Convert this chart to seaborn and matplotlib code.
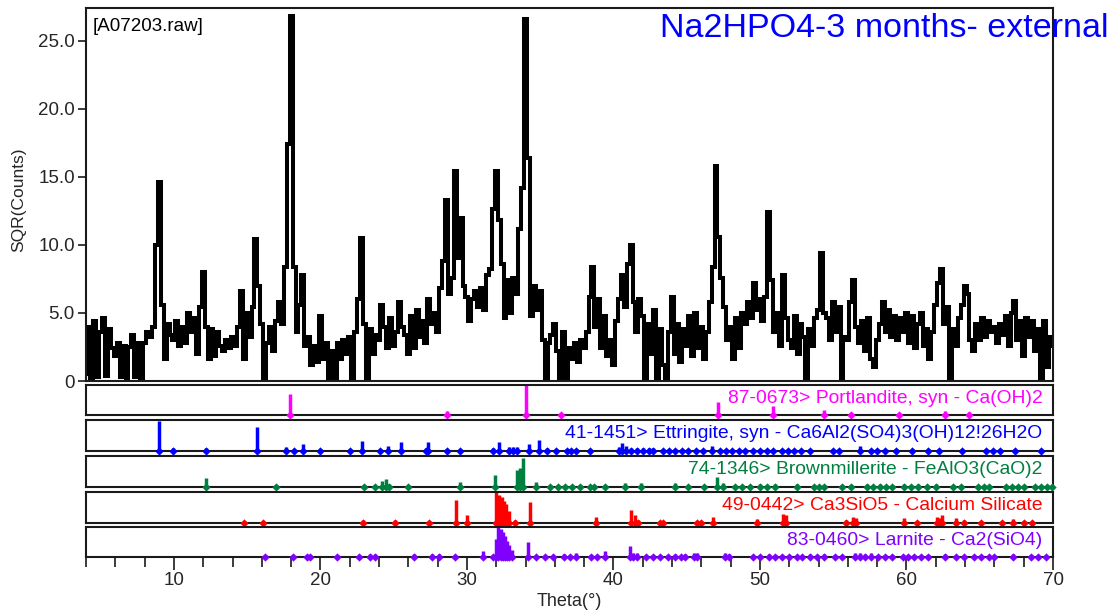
import numpy as np
import pandas as pd
import matplotlib
matplotlib.use("Agg")
import matplotlib.pyplot as plt
import seaborn as sns
from matplotlib.ticker import MultipleLocator

# ---------------- data ----------------
theta_start, theta_stop, theta_step = 4.0, 70.0, 0.2
counts = [
    0.5, 4.0, 0.2, 4.4, 0.3, 3.6, 4.6, 0.4, 3.8, 2.4,
    1.8, 2.8, 0.3, 2.6, 0.2, 2.5, 3.4, 0.3, 2.8, 0.2,
    2.8, 3.6, 3.2, 4.0, 10.0, 14.6, 5.6, 1.6, 4.2, 3.4,
    3.0, 4.4, 2.6, 4.0, 2.8, 5.0, 3.6, 4.6, 2.0, 5.4,
    8.0, 4.0, 1.6, 3.8, 1.8, 3.6, 2.6, 2.2, 3.0, 2.4,
    3.2, 2.6, 4.0, 6.6, 1.6, 5.0, 3.2, 5.4, 10.4, 7.0,
    4.2, 0.0, 2.8, 4.0, 2.2, 4.4, 5.8, 4.2, 8.4, 17.4,
    26.8, 8.4, 3.6, 5.6, 7.8, 2.6, 3.2, 1.2, 2.6, 1.4,
    4.8, 1.6, 2.8, 0.2, 2.2, 0.1, 2.8, 1.6, 3.0, 2.0,
    3.2, 0.1, 3.6, 6.0, 10.5, 4.2, 0.1, 3.8, 2.0, 3.4,
    3.0, 5.6, 4.0, 2.4, 4.6, 2.6, 3.6, 5.8, 4.0, 3.4,
    2.0, 4.8, 2.4, 5.2, 3.2, 4.4, 2.8, 6.0, 4.2, 5.0,
    3.6, 6.8, 8.8, 13.3, 6.4, 7.6, 15.4, 9.0, 12.0, 7.0,
    6.2, 4.4, 6.0, 6.6, 5.4, 6.8, 5.2, 7.8, 8.2, 12.6,
    15.4, 11.8, 8.6, 4.6, 7.4, 5.0, 7.6, 6.4, 11.2, 14.2,
    26.6, 16.4, 4.8, 7.0, 5.2, 6.6, 3.0, 0.1, 2.8, 3.4,
    4.2, 2.2, 0.1, 3.6, 0.1, 2.4, 1.6, 2.8, 1.4, 3.0,
    2.4, 3.6, 6.2, 8.4, 4.0, 6.0, 2.4, 4.8, 1.8, 3.0,
    1.2, 4.4, 6.0, 7.8, 5.4, 8.6, 10.0, 5.8, 3.6, 6.0,
    4.8, 0.1, 4.2, 2.0, 5.2, 0.1, 3.8, 1.2, 0.1, 3.6,
    6.2, 2.0, 4.2, 1.4, 3.8, 2.6, 4.8, 1.8, 5.0, 2.4,
    4.0, 1.6, 3.6, 5.8, 8.4, 15.8, 10.6, 7.6, 5.4, 3.0,
    4.0, 1.6, 4.6, 2.4, 5.0, 4.2, 5.8, 4.6, 7.2, 5.2,
    6.0, 4.4, 6.2, 12.4, 7.4, 3.6, 5.0, 2.6, 7.8, 4.6,
    3.0, 2.4, 4.8, 2.0, 4.2, 3.2, 0.1, 3.8, 2.6, 4.6,
    5.2, 9.4, 5.0, 4.6, 3.0, 5.8, 3.6, 5.4, 0.1, 3.2,
    3.0, 5.8, 7.4, 4.0, 2.8, 4.4, 2.2, 4.6, 1.6, 1.0,
    3.0, 4.2, 5.8, 3.6, 5.2, 3.2, 4.8, 3.0, 4.6, 3.6,
    5.0, 2.8, 4.8, 2.4, 4.2, 5.0, 2.6, 3.8, 1.6, 3.6,
    5.6, 7.2, 8.2, 4.2, 5.4, 0.1, 3.8, 2.6, 4.6, 5.6,
    7.0, 6.4, 3.0, 2.2, 4.2, 3.0, 4.6, 3.2, 4.4, 3.6,
    4.0, 2.8, 4.2, 3.4, 4.8, 2.6, 5.0, 5.9, 3.0, 4.4,
    1.8, 4.6, 3.2, 4.4, 2.2, 3.8, 0.1, 4.4, 1.0, 3.2, 2.6,
]
theta = np.round(theta_start + theta_step * np.arange(len(counts)), 2)

y_ticks = [0, 5, 10, 15, 20, 25]
y_tick_labels = ["0", "5.0", "10.0", "15.0", "20.0", "25.0"]
x_ticks = [10, 20, 30, 40, 50, 60, 70]

portlandite_pos = [17.95, 28.66, 34.05, 36.45, 47.15, 50.9, 54.4, 56.2, 59.5, 62.6, 64.25]
portlandite_int = [70, 15, 100, 5, 42, 30, 17, 7, 4, 12, 10]

ettringite_pos = [
    8.98, 9.91, 12.16, 15.68, 17.68, 18.2, 18.83, 19.95, 21.99, 22.86,
    24.1, 24.6, 25.52, 27.2, 27.35, 28.66, 29.54, 31.77, 32.2, 32.9,
    33.15, 33.4, 34.22, 34.95, 35.45, 36.1, 36.8, 37.1, 37.45, 38.4,
    40.35, 40.6, 40.85, 41.2, 41.6, 42.0, 42.4, 42.7, 43.4, 43.8,
    44.2, 44.7, 45.1, 45.6, 46.1, 46.7, 47.3, 47.7, 48.1, 48.6,
    49.0, 49.5, 50.0, 50.5, 50.9, 51.5, 51.9, 52.3, 52.8, 53.4,
    55.0, 55.4, 56.8, 57.6, 58.0, 58.5, 59.3, 60.4, 61.5, 62.2,
    63.8, 65.4, 65.9, 66.4, 67.4, 69.2,
]
ettringite_int = [
    97, 10, 10, 77, 12, 8, 22, 8, 8, 33,
    8, 15, 30, 10, 28, 8, 8, 10, 30, 12,
    12, 12, 22, 35, 10, 8, 8, 8, 8, 8,
    12, 27, 15, 10, 10, 10, 10, 10, 8, 8,
    8, 8, 8, 8, 8, 15, 8, 8, 8, 8,
    8, 8, 8, 8, 8, 8, 8, 8, 8, 8,
    8, 8, 15, 8, 8, 8, 8, 8, 8, 8,
    8, 8, 8, 8, 8, 8,
]

brownmillerite_pos = [
    12.16, 17.0, 22.96, 23.75, 24.2, 24.45, 24.7, 26.0, 29.54, 31.93,
    33.4, 33.6, 33.81, 34.72, 35.67, 36.24, 36.7, 37.15, 37.7, 38.4,
    38.7, 39.4, 40.8, 41.9, 44.2, 45.1, 46.2, 47.1, 47.45, 48.3,
    48.8, 49.3, 50.0, 50.5, 51.0, 52.5, 53.7, 54.0, 54.4, 55.6,
    56.2, 57.3, 57.7, 58.2, 58.6, 59.0, 59.8, 60.3, 60.8, 61.4,
    62.0, 63.2, 63.7, 64.9, 65.3, 65.6, 66.8, 67.2, 67.6, 68.05,
    68.8, 69.2, 69.6, 69.95,
]
brownmillerite_int = [
    30, 8, 8, 8, 20, 25, 10, 6, 17, 40,
    55, 60, 92, 15, 6, 6, 6, 6, 6, 8,
    8, 6, 12, 12, 12, 6, 6, 32, 12, 8,
    6, 8, 10, 8, 10, 10, 6, 6, 6, 6,
    6, 10, 8, 10, 8, 8, 10, 8, 10, 8,
    10, 8, 8, 8, 6, 8, 8, 8, 6, 8,
    8, 6, 8, 8,
]

c3s_pos = [
    14.8, 16.1, 22.9, 25.1, 27.38, 29.27, 30.0, 32.0, 32.2, 32.4,
    32.55, 32.7, 32.85, 33.25, 34.3, 38.8, 41.2, 41.45, 41.7, 43.2,
    43.4, 45.7, 46.0, 46.8, 49.8, 51.6, 51.75, 55.9, 56.35, 56.55,
    59.8, 60.7, 62.1, 62.3, 62.45, 63.4, 63.9, 65.1, 66.5, 67.3,
    68.05, 68.6,
]
c3s_int = [
    8, 5, 10, 10, 5, 73, 25, 100, 90, 83,
    70, 60, 40, 10, 67, 20, 42, 25, 10, 5,
    5, 6, 6, 20, 12, 30, 25, 10, 20, 15,
    15, 8, 20, 15, 25, 15, 10, 5, 5, 12,
    8, 8,
]

larnite_pos = [
    16.2, 18.1, 19.1, 19.3, 21.1, 22.6, 23.4, 23.7, 26.4, 27.6,
    28.1, 29.2, 31.1, 31.8, 32.0, 32.15, 32.3, 32.45, 32.6, 32.75,
    32.9, 33.05, 34.2, 34.7, 35.3, 35.9, 36.6, 37.0, 37.45, 38.5,
    38.9, 39.4, 41.1, 41.35, 41.6, 42.2, 42.7, 43.2, 43.7, 44.2,
    44.6, 44.9, 45.5, 45.7, 47.6, 47.9, 49.5, 50.0, 50.6, 51.0,
    51.5, 52.0, 52.5, 52.9, 53.4, 53.9, 54.4, 55.1, 55.6, 56.5,
    56.8, 57.2, 57.6, 58.05, 58.5, 59.0, 59.75, 60.1, 60.5, 61.0,
    61.5, 62.6, 63.4, 63.9, 64.6, 65.1, 65.6, 66.0, 67.3, 68.5,
    69.0, 69.5,
]
larnite_int = [
    5, 5, 8, 8, 5, 5, 10, 10, 10, 10,
    10, 8, 20, 8, 60, 100, 95, 85, 70, 55,
    40, 25, 50, 5, 5, 5, 10, 8, 12, 8,
    8, 20, 38, 15, 15, 8, 6, 8, 6, 10,
    8, 10, 15, 12, 12, 10, 5, 5, 10, 8,
    8, 5, 5, 5, 10, 8, 10, 5, 5, 12,
    12, 10, 12, 8, 8, 8, 8, 8, 8, 8,
    8, 10, 5, 5, 5, 5, 5, 5, 10, 8,
    8, 8,
]

phase_labels = [
    "87-0673> Portlandite, syn - Ca(OH)2",
    "41-1451> Ettringite, syn - Ca6Al2(SO4)3(OH)12!26H2O",
    "74-1346> Brownmillerite - FeAlO3(CaO)2",
    "49-0442> Ca3SiO5 - Calcium Silicate",
    "83-0460> Larnite - Ca2(SiO4)",
]
phase_colors = ["#FF00FF", "#0000FF", "#008040", "#FF0000", "#8000FF"]
phase_pos = [portlandite_pos, ettringite_pos, brownmillerite_pos, c3s_pos, larnite_pos]
phase_int = [portlandite_int, ettringite_int, brownmillerite_int, c3s_int, larnite_int]

# ---------------- figure ----------------
sns.set_style("white")
plt.rcParams["font.family"] = ["Liberation Sans", "DejaVu Sans"]

W, H = 1120, 611
fig = plt.figure(figsize=(W / 100, H / 100), dpi=100)
fig.patch.set_facecolor("white")


def add_ax(l, t, r, b):
    return fig.add_axes([l / W, 1 - b / H, (r - l) / W, (b - t) / H])


frame_color = "#1a1a1a"

ax = add_ax(86, 8, 1053, 381)
df = pd.DataFrame({"theta": theta, "counts": counts})
sns.lineplot(data=df, x="theta", y="counts", ax=ax, color="black", lw=2.9,
             drawstyle="steps-mid", estimator=None, solid_joinstyle="miter")
ax.set_xlim(4, 70)
ax.set_ylim(0, 27.4)
ax.set_yticks(y_ticks)
ax.set_yticklabels(y_tick_labels)
ax.tick_params(axis="y", left=True, direction="out", length=6, width=1.2,
               labelsize=13.5, pad=2, color=frame_color)
ax.tick_params(axis="x", bottom=False, labelbottom=False)
ax.set_xlabel("")
ax.set_ylabel("SQR(Counts)", fontsize=12.5)
ax.yaxis.set_label_coords(-0.062, 0.485)
for s in ax.spines.values():
    s.set_visible(True)
    s.set_linewidth(1.5)
    s.set_color(frame_color)

panel_rows = [(385, 415), (420, 451), (456, 487), (492, 523), (527, 557)]
for i, (t, b) in enumerate(panel_rows):
    pax = add_ax(86, t, 1053, b)
    c = phase_colors[i]
    pos = np.array(phase_pos[i])
    inten = np.array(phase_int[i]) / 100.0
    pax.vlines(pos, 0, inten, color=c, lw=2.5)
    sns.scatterplot(x=pos, y=np.zeros_like(pos), ax=pax, marker="D", s=18,
                    color=c, edgecolor=c, linewidth=0, clip_on=False,
                    legend=False, zorder=3)
    pax.set_xlim(4, 70)
    pax.set_ylim(0, 1.0)
    pax.set_yticks([])
    pax.text(0.989, 0.55, phase_labels[i], transform=pax.transAxes,
             ha="right", va="center", color=c, fontsize=13.9)
    for s in pax.spines.values():
        s.set_visible(True)
        s.set_linewidth(1.5)
        s.set_color(frame_color)
    if i < len(panel_rows) - 1:
        pax.set_xticks([])
    else:
        pax.set_xticks(x_ticks)
        pax.set_xticklabels([str(v) for v in x_ticks])
        pax.xaxis.set_minor_locator(MultipleLocator(2))
        pax.tick_params(axis="x", which="major", bottom=True, direction="out",
                        length=9, width=1.2, labelsize=13.5, pad=2, color=frame_color)
        pax.tick_params(axis="x", which="minor", bottom=True, direction="out",
                        length=7, width=1.2, color=frame_color)
        pax.set_xlabel("Theta(°)", fontsize=13, labelpad=3)

fig.text(660 / W, 1 - 37 / H, "Na2HPO4-3 months- external", color="#0000FF",
         fontsize=24.5, ha="left", va="baseline")
fig.text(93 / W, 1 - 31 / H, "[A07203.raw]", fontsize=13.5, ha="left",
         va="baseline", color="black")

fig.savefig("out.png", dpi=100, facecolor="white")
